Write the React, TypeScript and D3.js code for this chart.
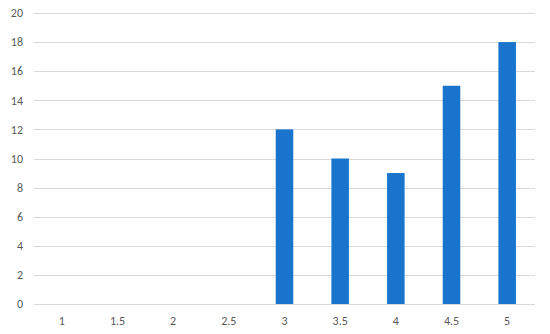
import * as d3 from 'd3'

const CATEGORIES = ['1', '1.5', '2', '2.5', '3', '3.5', '4', '4.5', '5']
const VALUES = [0, 0, 0, 0, 12, 10, 9, 15, 18]
const Y_TICKS = [0, 2, 4, 6, 8, 10, 12, 14, 16, 18, 20]

const W = 550
const H = 334
const margin = { top: 13, right: 15, bottom: 30, left: 34 }

export default function App() {
  const x = d3.scaleBand<string>()
    .domain(CATEGORIES)
    .range([margin.left, W - margin.right])
    .paddingInner(0.685)
    .paddingOuter(0.3425)

  const y = d3.scaleLinear()
    .domain([0, 20])
    .range([H - margin.bottom, margin.top])

  const font = 'Calibri, Carlito, "Liberation Sans", Arial, sans-serif'

  return (
    <svg
      width={W}
      height={H}
      style={{ position: 'absolute', left: 0, top: 0, background: '#fff' }}
      fontFamily={font}
    >
      {/* gridlines + y labels */}
      {Y_TICKS.map(t => (
        <g key={t}>
          <line
            x1={margin.left}
            x2={W - margin.right}
            y1={Math.round(y(t)) + 0.5}
            y2={Math.round(y(t)) + 0.5}
            stroke="#d9d9d9"
            strokeWidth={1}
          />
          <text
            x={23}
            y={y(t)}
            dy="0.35em"
            textAnchor="end"
            fontSize={12}
            fill="#595959"
          >
            {t}
          </text>
        </g>
      ))}

      {/* bars */}
      {CATEGORIES.map((c, i) => (
        <rect
          key={c}
          x={x(c)}
          y={y(VALUES[i])}
          width={x.bandwidth()}
          height={y(0) - y(VALUES[i])}
          fill="#1874cd"
        />
      ))}

      {/* x labels */}
      {CATEGORIES.map(c => (
        <text
          key={c}
          x={(x(c) ?? 0) + x.bandwidth() / 2}
          y={321}
          dy="0.35em"
          textAnchor="middle"
          fontSize={12}
          fill="#595959"
        >
          {c}
        </text>
      ))}
    </svg>
  )
}
